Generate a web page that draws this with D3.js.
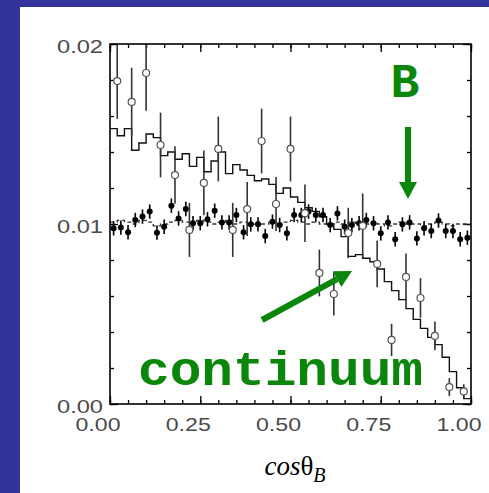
<!DOCTYPE html>
<html>
<head>
<meta charset="utf-8">
<script src="https://cdn.jsdelivr.net/npm/d3@7"></script>
<style>
body { margin: 0; background: #fff; }
</style>
</head>
<body>
<div id="chart"></div>
<script>
// continuum MC histogram, 50 bins of 0.02
var contMC = [0.0153, 0.0149, 0.0153, 0.0141, 0.0145, 0.0150, 0.0148, 0.0138, 0.0140, 0.0136,
              0.0139, 0.0132, 0.0137, 0.0129, 0.0135, 0.0140, 0.0128, 0.0133, 0.0130, 0.0127,
              0.0124, 0.0125, 0.0122, 0.0117, 0.0120, 0.0115, 0.0112, 0.0109, 0.0107, 0.0104,
              0.0100, 0.0097, 0.0093, 0.0082, 0.0083, 0.0081, 0.0079, 0.0075, 0.0068, 0.0063,
              0.0058, 0.0053, 0.0047, 0.0042, 0.0037, 0.0033, 0.0026, 0.0018, 0.0009, 0.0003];
// B signal MC histogram (dashed), 50 bins
var sigMC = [0.0101, 0.0102, 0.0101, 0.0100, 0.0102, 0.0101, 0.0099, 0.0100, 0.0101, 0.0102,
             0.0101, 0.0100, 0.0102, 0.0101, 0.0100, 0.0101, 0.0102, 0.0100, 0.0101, 0.0100,
             0.0101, 0.0100, 0.0101, 0.0100, 0.0101, 0.0102, 0.0101, 0.0100, 0.0101, 0.0100,
             0.0100, 0.0101, 0.0100, 0.0101, 0.0100, 0.0100, 0.0101, 0.0100, 0.0099, 0.0100,
             0.0101, 0.0100, 0.0100, 0.0099, 0.0100, 0.0101, 0.0100, 0.0099, 0.0100, 0.0100];
// B data points (filled), 50 bins
var bData = [0.00976, 0.00980, 0.00954, 0.01022, 0.01041, 0.01069, 0.00952, 0.00985, 0.01102, 0.01031,
             0.01083, 0.01004, 0.01004, 0.01026, 0.01074, 0.01009, 0.01009, 0.01050, 0.00954, 0.00998,
             0.00998, 0.00933, 0.01013, 0.00994, 0.00948, 0.01050, 0.01050, 0.01069, 0.01050, 0.01050,
             0.00994, 0.01059, 0.00985, 0.00994, 0.01004, 0.01022, 0.01004, 0.00948, 0.01009, 0.00915,
             0.00998, 0.01009, 0.00920, 0.00976, 0.00961, 0.01019, 0.00961, 0.00961, 0.00915, 0.00924];
var bErr = [0.0004, 0.0004, 0.0004, 0.0004, 0.0004, 0.0004, 0.0004, 0.0004, 0.0004, 0.0004,
            0.0004, 0.0004, 0.0004, 0.0004, 0.0004, 0.0004, 0.0004, 0.0004, 0.0004, 0.0004,
            0.0004, 0.0004, 0.0004, 0.0004, 0.0004, 0.0004, 0.0004, 0.0004, 0.0004, 0.0004,
            0.0004, 0.0004, 0.0004, 0.0004, 0.0004, 0.0004, 0.0004, 0.0004, 0.0004, 0.0004,
            0.0004, 0.0004, 0.0004, 0.0004, 0.0004, 0.0004, 0.0004, 0.0004, 0.0004, 0.0004];
// continuum data points (open), 25 bins of 0.04
var contData = [0.01794, 0.01678, 0.01839, 0.01439, 0.01272, 0.00967, 0.01228, 0.01417, 0.00967, 0.01083,
                0.01461, 0.01111, 0.01417, 0.01060, 0.00728, 0.00611, 0.00950, 0.00990, 0.00778, 0.00356,
                0.00706, 0.00589, 0.00378, 0.00094, 0.00070];
var contErr = [0.0021, 0.0019, 0.0021, 0.0018, 0.0016, 0.0015, 0.0018, 0.0018, 0.0015, 0.0015,
               0.0018, 0.0015, 0.0018, 0.0016, 0.0013, 0.0012, 0.0014, 0.0018, 0.0013, 0.0009,
               0.0013, 0.0011, 0.0008, 0.0005, 0.0004];
var xTicks = [0, 0.25, 0.5, 0.75, 1];
var yTicks = [0, 0.01, 0.02];
var xLabels = ["0.00", "0.25", "0.50", "0.75", "1.00"];
var yLabels = ["0.00", "0.01", "0.02"];

var W = 489, H = 493;
var margin = { top: 44, left: 110 },
    width = 361,
    height = 360;

var svg = d3.select("#chart").append("svg")
    .attr("width", W)
    .attr("height", H);

// slide background
svg.append("rect").attr("width", W).attr("height", H).attr("fill", "#343399");
svg.append("rect").attr("x", 20).attr("y", 7).attr("width", W - 20).attr("height", H - 7).attr("fill", "#fff");

var x = d3.scaleLinear().domain([0, 1]).range([0, width]);
var y = d3.scaleLinear().domain([0, 0.02]).range([height, 0]);

var g = svg.append("g")
    .attr("transform", "translate(" + margin.left + "," + margin.top + ")");

g.append("clipPath").attr("id", "clip")
    .append("rect").attr("width", width).attr("height", height);

// ticks, all pointing inward
var minorX = d3.range(0, 21).map(function(i) { return i * 0.05; });
var minorY = d3.range(0, 11).map(function(i) { return i * 0.002; });

function tickAxes(axis, vals, len, tr) {
    var a = g.append("g").attr("transform", tr)
        .call(axis.tickValues(vals).tickSize(-len).tickFormat(""));
    a.select(".domain").remove();
    a.selectAll("line").attr("stroke", "#000").attr("stroke-width", 1.3);
}
tickAxes(d3.axisBottom(x), minorX, 4, "translate(0," + height + ")");
tickAxes(d3.axisBottom(x), xTicks, 8, "translate(0," + height + ")");
tickAxes(d3.axisTop(x), minorX, 4, "translate(0,0)");
tickAxes(d3.axisTop(x), xTicks, 8, "translate(0,0)");
tickAxes(d3.axisLeft(y), minorY, 4, "translate(0,0)");
tickAxes(d3.axisLeft(y), yTicks, 8, "translate(0,0)");
tickAxes(d3.axisRight(y), minorY, 4, "translate(" + width + ",0)");
tickAxes(d3.axisRight(y), yTicks, 8, "translate(" + width + ",0)");

// tick labels
g.selectAll(".xl").data(xTicks).enter().append("text")
    .attr("x", function(d) { return x(d) - 12; })
    .attr("y", height + 27)
    .attr("text-anchor", "middle")
    .attr("textLength", 45)
    .attr("lengthAdjust", "spacingAndGlyphs")
    .attr("font-family", "Liberation Sans, Arial, sans-serif")
    .attr("font-size", 19)
    .attr("fill", "#4a4a4a")
    .text(function(d, i) { return xLabels[i]; });

g.selectAll(".yl").data(yTicks).enter().append("text")
    .attr("x", -7)
    .attr("y", function(d) { return y(d) + 9; })
    .attr("text-anchor", "end")
    .attr("textLength", 46)
    .attr("lengthAdjust", "spacingAndGlyphs")
    .attr("font-family", "Liberation Sans, Arial, sans-serif")
    .attr("font-size", 19)
    .attr("fill", "#4a4a4a")
    .text(function(d, i) { return yLabels[i]; });

var plot = g.append("g").attr("clip-path", "url(#clip)");

// step histograms
function stepPoints(vals, bw) {
    var pts = [];
    vals.forEach(function(v, i) {
        pts.push([x(i * bw), y(v)]);
        pts.push([x((i + 1) * bw), y(v)]);
    });
    return pts;
}
var line = d3.line();

plot.append("path")
    .attr("d", line(stepPoints(sigMC, 0.02)))
    .attr("fill", "none")
    .attr("stroke", "#333")
    .attr("stroke-width", 1.3)
    .attr("stroke-dasharray", "4,3");

plot.append("path")
    .attr("d", line(stepPoints(contMC, 0.02)))
    .attr("fill", "none")
    .attr("stroke", "#111")
    .attr("stroke-width", 1.4);

// error bars
plot.selectAll(".ce").data(contData).enter().append("line")
    .attr("x1", function(d, i) { return x(0.02 + i * 0.04); })
    .attr("x2", function(d, i) { return x(0.02 + i * 0.04); })
    .attr("y1", function(d, i) { return y(d - contErr[i]); })
    .attr("y2", function(d, i) { return y(d + contErr[i]); })
    .attr("stroke", "#333")
    .attr("stroke-width", 1.6);

plot.selectAll(".be").data(bData).enter().append("line")
    .attr("x1", function(d, i) { return x(0.01 + i * 0.02); })
    .attr("x2", function(d, i) { return x(0.01 + i * 0.02); })
    .attr("y1", function(d, i) { return y(d - bErr[i]); })
    .attr("y2", function(d, i) { return y(d + bErr[i]); })
    .attr("stroke", "#000")
    .attr("stroke-width", 1.6);

plot.selectAll(".bp").data(bData).enter().append("circle")
    .attr("cx", function(d, i) { return x(0.01 + i * 0.02); })
    .attr("cy", function(d) { return y(d); })
    .attr("r", 3)
    .attr("fill", "#000");

plot.selectAll(".cp").data(contData).enter().append("circle")
    .attr("cx", function(d, i) { return x(0.02 + i * 0.04); })
    .attr("cy", function(d) { return y(d); })
    .attr("r", 3.5)
    .attr("fill", "#fff")
    .attr("stroke", "#555")
    .attr("stroke-width", 1.2);

// frame
g.append("rect")
    .attr("width", width)
    .attr("height", height)
    .attr("fill", "none")
    .attr("stroke", "#000")
    .attr("stroke-width", 1.6);

// annotations
var green = "#0a870a";
svg.append("text")
    .attr("x", 405).attr("y", 97)
    .attr("text-anchor", "middle")
    .attr("font-family", "Courier New, Liberation Mono, monospace")
    .attr("font-weight", "bold")
    .attr("font-size", 48)
    .attr("fill", green)
    .text("B");

svg.append("text")
    .attr("x", 138).attr("y", 385)
    .attr("textLength", 285)
    .attr("lengthAdjust", "spacingAndGlyphs")
    .attr("font-family", "Courier New, Liberation Mono, monospace")
    .attr("font-weight", "bold")
    .attr("font-size", 48)
    .attr("fill", green)
    .text("continuum");

function arrow(x1, y1, x2, y2) {
    var dx = x2 - x1, dy = y2 - y1, L = Math.sqrt(dx * dx + dy * dy);
    var ux = dx / L, uy = dy / L, hl = 17, hw = 9;
    var bx = x2 - ux * hl, by = y2 - uy * hl;
    svg.append("line")
        .attr("x1", x1).attr("y1", y1).attr("x2", bx).attr("y2", by)
        .attr("stroke", green).attr("stroke-width", 6);
    svg.append("polygon")
        .attr("points", [[x2, y2], [bx - uy * hw, by + ux * hw], [bx + uy * hw, by - ux * hw]].join(" "))
        .attr("fill", green);
}
arrow(408, 127, 408, 199);
arrow(262, 320, 352, 271);

// axis title
var t = svg.append("text")
    .attr("x", 295).attr("y", 475)
    .attr("text-anchor", "middle")
    .attr("font-family", "Liberation Serif, Times New Roman, serif")
    .attr("font-size", 27)
    .attr("fill", "#000");
t.append("tspan").attr("font-style", "italic").text("cos");
t.append("tspan").text("θ");
t.append("tspan").attr("font-style", "italic").attr("font-size", 20).attr("dy", 7).text("B");
</script>
</body>
</html>
